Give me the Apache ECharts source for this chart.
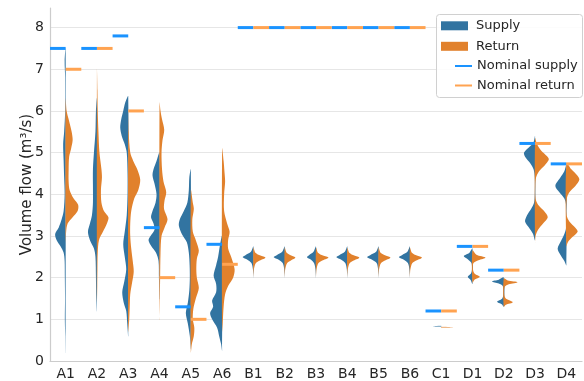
<!DOCTYPE html>
<html>
<head>
<meta charset="utf-8">
<script src="https://cdn.jsdelivr.net/npm/echarts@6/dist/echarts.min.js"></script>
<style>
  html, body { margin: 0; padding: 0; background: #fff; }
  #chart { width: 584px; height: 381px; }
</style>
</head>
<body>
<div id="chart"></div>
<script>
const categories = ['A1', 'A2', 'A3', 'A4', 'A5', 'A6', 'B1', 'B2', 'B3', 'B4', 'B5', 'B6', 'C1', 'D1', 'D2', 'D3', 'D4']

const nominalSupply = [7.5, 7.5, 7.8, 3.2, 1.3, 2.8, 8, 8, 8, 8, 8, 8, 1.2, 2.75, 2.18, 5.22, 4.73]
const nominalReturn = [7.0, 7.5, 6.0, 2.0, 1.0, 2.32, 8, 8, 8, 8, 8, 8, 1.2, 2.75, 2.18, 5.22, 4.73]

// kernel density per category as [flow, density]; density scaled so 1 ≈ 1/31 of a category
const supplyProfiles = [
  [[7.5, 0], [7.2, 1], [6.8, 0.5], [6.0, 0.5], [5.5, 1.5], [5.2, 2.5], [4.8, 2], [4.4, 1.5], [4.0, 1], [3.6, 2], [3.4, 4], [3.2, 7], [3.05, 10.5], [2.9, 9], [2.75, 5], [2.6, 2], [2.4, 1], [2.0, 0.8], [1.5, 0.6], [1.0, 0.8], [0.6, 0.4], [0.2, 0]],
  [[6.3, 0], [6.0, 1], [5.5, 1.5], [5.0, 3], [4.6, 4], [4.2, 4], [3.8, 4], [3.5, 5], [3.3, 7], [3.1, 9], [2.9, 7], [2.7, 3], [2.5, 1.5], [2.0, 1], [1.5, 0.7], [1.2, 0]],
  [[6.35, 0], [6.2, 3], [6.0, 5], [5.8, 7], [5.6, 8], [5.4, 6.5], [5.2, 3.5], [5.0, 1.5], [4.5, 0.7], [4.0, 0.7], [3.5, 1.5], [3.1, 3.5], [2.8, 5], [2.5, 3.5], [2.2, 2], [1.9, 4], [1.65, 6], [1.4, 4.5], [1.2, 2], [0.9, 1], [0.6, 0]],
  [[5.0, 0], [4.8, 3], [4.6, 6], [4.45, 7], [4.25, 5], [4.0, 3], [3.8, 4], [3.6, 7], [3.45, 8.5], [3.3, 6], [3.15, 5], [3.0, 9], [2.9, 11], [2.75, 8], [2.6, 3.5], [2.4, 1], [2.0, 0.6], [1.5, 0]],
  [[4.6, 0], [4.4, 1.5], [4.1, 2], [3.8, 3.5], [3.6, 7], [3.4, 11], [3.25, 12], [3.05, 9], [2.85, 4], [2.6, 2], [2.3, 1.2], [2.0, 1], [1.7, 1.5], [1.4, 3], [1.15, 5], [0.9, 3], [0.6, 1], [0.3, 0]],
  [[3.0, 0], [2.8, 2], [2.5, 4], [2.3, 6], [2.05, 8.5], [1.85, 6], [1.65, 6], [1.45, 10], [1.3, 9], [1.15, 12], [1.0, 10], [0.8, 5], [0.6, 3], [0.4, 1], [0.25, 0]],
  [[2.75, 0], [2.62, 2.5], [2.54, 8], [2.49, 10.7], [2.43, 6], [2.35, 2], [2.2, 0.5], [2.0, 0]],
  [[2.75, 0], [2.62, 2.5], [2.54, 8], [2.49, 11], [2.43, 6], [2.35, 2], [2.2, 0.5], [2.0, 0]],
  [[2.75, 0], [2.62, 2.5], [2.54, 7], [2.49, 9], [2.43, 5], [2.35, 2], [2.2, 0.5], [2.0, 0]],
  [[2.75, 0], [2.62, 2.5], [2.54, 8], [2.49, 10.9], [2.43, 6], [2.35, 2], [2.2, 0.5], [2.0, 0]],
  [[2.75, 0], [2.62, 2.5], [2.54, 8.5], [2.49, 11.5], [2.43, 6.5], [2.35, 2], [2.2, 0.5], [2.0, 0]],
  [[2.75, 0], [2.62, 2.5], [2.54, 8], [2.49, 11], [2.43, 6], [2.35, 2], [2.2, 0.5], [2.0, 0]],
  [[0.845, 0], [0.83, 8], [0.815, 0]],
  [[2.7, 0], [2.6, 3], [2.52, 8.7], [2.45, 5], [2.35, 1], [2.2, 0.5], [2.1, 1.5], [2.02, 4.7], [1.95, 2], [1.85, 0]],
  [[2.0, 0], [1.95, 5], [1.91, 11.7], [1.86, 5], [1.8, 1], [1.6, 0.5], [1.5, 1.5], [1.42, 6.7], [1.36, 2], [1.3, 0]],
  [[5.4, 0], [5.25, 1.5], [5.15, 5], [5.0, 11], [4.9, 10], [4.75, 5], [4.6, 1.5], [4.4, 0.3], [4.0, 0.3], [3.8, 1], [3.65, 4], [3.5, 8], [3.35, 10], [3.2, 6], [3.05, 2], [2.9, 0]],
  [[4.7, 0], [4.55, 2], [4.4, 6], [4.2, 11], [4.05, 7], [3.9, 2], [3.75, 0.3], [3.2, 0.3], [3.05, 2], [2.9, 5], [2.7, 8.7], [2.55, 6], [2.4, 2], [2.3, 0]],
]

const returnProfiles = [
  [[6.3, 0], [6.0, 1], [5.8, 3], [5.5, 6], [5.3, 7], [5.1, 5.5], [4.9, 3.5], [4.6, 3], [4.3, 3], [4.1, 4], [3.9, 8], [3.75, 12.5], [3.6, 12], [3.45, 7], [3.3, 2], [3.1, 0.5], [2.8, 0]],
  [[7.0, 0], [6.5, 0.5], [6.0, 0.8], [5.5, 1.5], [5.0, 2.5], [4.6, 4.5], [4.4, 5], [4.1, 4], [3.8, 4.5], [3.6, 7], [3.45, 11.5], [3.3, 10], [3.1, 6], [2.9, 2], [2.6, 0.8], [2.2, 0.5], [1.8, 0.3], [1.4, 0]],
  [[6.1, 0], [5.5, 0.5], [5.0, 2], [4.8, 5], [4.6, 9], [4.35, 12], [4.1, 10], [3.9, 6], [3.6, 3], [3.3, 2], [3.0, 2], [2.7, 3], [2.4, 4.5], [2.15, 5.5], [1.9, 4], [1.6, 2], [1.3, 1.5], [1.0, 1], [0.7, 0]],
  [[6.2, 0], [6.0, 1], [5.8, 2.5], [5.55, 4.7], [5.3, 3], [5.0, 2], [4.6, 2.5], [4.3, 4], [4.05, 6.7], [3.85, 5], [3.65, 4.5], [3.4, 8], [3.2, 5], [3.0, 2], [2.6, 1], [2.0, 0.6], [1.5, 0.3], [1.0, 0]],
  [[4.1, 0], [3.8, 2], [3.65, 3], [3.4, 1.5], [3.1, 2], [2.9, 5], [2.65, 8], [2.45, 6], [2.2, 5.5], [2.0, 6], [1.75, 8], [1.5, 5], [1.25, 2.5], [1.0, 2], [0.8, 3.5], [0.6, 3], [0.4, 1], [0.2, 0]],
  [[5.1, 0], [4.8, 1.5], [4.5, 2.5], [4.3, 3], [4.0, 2], [3.6, 2], [3.3, 5], [3.1, 7.5], [2.9, 6], [2.7, 6], [2.5, 9], [2.2, 12.5], [2.0, 11], [1.8, 6], [1.6, 3], [1.3, 1.5], [1.0, 0.8], [0.7, 0]],
  [[2.72, 0], [2.6, 2], [2.53, 7], [2.48, 12], [2.42, 7], [2.35, 2.5], [2.2, 0.5], [2.0, 0]],
  [[2.72, 0], [2.6, 2], [2.53, 6.5], [2.48, 10.7], [2.42, 6.5], [2.35, 2.5], [2.2, 0.5], [2.0, 0]],
  [[2.72, 0], [2.6, 2], [2.53, 7], [2.48, 12.4], [2.42, 7], [2.35, 2.5], [2.2, 0.5], [2.0, 0]],
  [[2.72, 0], [2.6, 2], [2.53, 7], [2.48, 12], [2.42, 7], [2.35, 2.5], [2.2, 0.5], [2.0, 0]],
  [[2.72, 0], [2.6, 2], [2.53, 7], [2.48, 11.8], [2.42, 7], [2.35, 2.5], [2.2, 0.5], [2.0, 0]],
  [[2.72, 0], [2.6, 2], [2.53, 7], [2.48, 12], [2.42, 7], [2.35, 2.5], [2.2, 0.5], [2.0, 0]],
  [[0.82, 0], [0.805, 12], [0.79, 0]],
  [[2.65, 0], [2.55, 4], [2.48, 13], [2.42, 6], [2.35, 1], [2.2, 0.5], [2.1, 2], [2.02, 7.3], [1.95, 2], [1.88, 0]],
  [[1.98, 0], [1.93, 4], [1.89, 13.7], [1.84, 5], [1.78, 1], [1.6, 0.5], [1.5, 2], [1.41, 9], [1.35, 2], [1.3, 0]],
  [[5.35, 0], [5.2, 2], [5.05, 6], [4.85, 13.7], [4.7, 10], [4.55, 4], [4.4, 1], [4.2, 0.3], [3.9, 0.5], [3.75, 3], [3.6, 9], [3.45, 12.7], [3.3, 8], [3.15, 3], [3.0, 0.5], [2.85, 0]],
  [[4.75, 0], [4.6, 5], [4.45, 11], [4.35, 13], [4.2, 9], [4.05, 3], [3.9, 0.5], [3.5, 0.3], [3.35, 3], [3.2, 9], [3.1, 11.3], [2.95, 5], [2.85, 1.5], [2.75, 0]],
]

const SUPPLY = '#3274a1'
const RETURN = '#e1812c'
const NOM_SUPPLY = '#1a93ff'
const NOM_RETURN = '#ffa351'
const TEXT = '#262626'
const FONT = 'DejaVu Sans'

function violinItem(profiles, side) {
  return function (params, api) {
    const i = api.value(0)
    const bw = api.size([1, 0])[0]
    const k = bw / 31.3
    const cx = api.coord([i, 0])[0]
    const pts = profiles[i].map(([v, d]) => [cx + side * d * k, api.coord([i, v])[1]])
    const faint = categories[i] === 'C1'
    return {
      type: 'polygon',
      shape: { points: pts, smooth: 0.3 },
      style: { fill: api.visual('color'), opacity: faint ? 0.55 : 1 },
    }
  }
}

function nominalItem(side) {
  return function (params, api) {
    const i = api.value(0)
    const bw = api.size([1, 0])[0]
    const [cx, cy] = api.coord([i, api.value(1)])
    const x0 = side < 0 ? cx - bw / 2 : cx
    return {
      type: 'rect',
      shape: { x: x0, y: cy - 1.5, width: bw / 2, height: 3 },
      style: { fill: api.visual('color') },
    }
  }
}

const chart = echarts.init(document.getElementById('chart'), null, { renderer: 'canvas' })

chart.setOption({
  backgroundColor: '#fff',
  animation: false,
  textStyle: { fontFamily: FONT },
  grid: { left: 50, right: 2, top: 8, bottom: 19 },
  legend: [
    {
      orient: 'vertical',
      left: 441,
      top: 19.3,
      padding: 0,
      itemWidth: 27,
      itemHeight: 9,
      itemGap: 7.5,
      icon: 'rect',
      z: 10,
      data: ['Supply', 'Return'],
      textStyle: { color: TEXT, fontSize: 13, lineHeight: 13, fontFamily: FONT, padding: [0, 0, 0, 3] },
    },
    {
      orient: 'vertical',
      left: 455,
      top: 59.5,
      padding: 0,
      itemWidth: 17,
      itemHeight: 2,
      itemGap: 6.5,
      icon: 'rect',
      z: 10,
      data: ['Nominal supply', 'Nominal return'],
      textStyle: { color: TEXT, fontSize: 13, lineHeight: 13, fontFamily: FONT },
    },
  ],
  graphic: [
    {
      type: 'rect',
      z: 5,
      shape: { x: 436.5, y: 14.5, width: 146, height: 83, r: 3 },
      style: { fill: 'rgba(255,255,255,0.85)', stroke: '#d0d0d0', lineWidth: 1 },
    },
  ],
  xAxis: {
    type: 'category',
    data: categories,
    boundaryGap: true,
    axisTick: { show: false },
    axisLine: { lineStyle: { color: '#cccccc', width: 1.2 } },
    axisLabel: { color: TEXT, fontSize: 14, fontFamily: FONT, margin: 6, interval: 0 },
    splitLine: { show: false },
  },
  yAxis: {
    type: 'value',
    min: 0,
    max: 8.47,
    interval: 1,
    name: 'Volume flow (m³/s)',
    nameLocation: 'middle',
    nameGap: 15,
    nameMoveOverlap: false,
    nameTextStyle: { color: TEXT, fontSize: 15, fontFamily: FONT },
    axisLine: { show: true, lineStyle: { color: '#cccccc', width: 1.2 } },
    axisTick: { show: false },
    axisLabel: { color: TEXT, fontSize: 14, fontFamily: FONT, margin: 6, showMaxLabel: false },
    splitLine: { show: true, showMaxLine: false, lineStyle: { color: '#e6e6e6', width: 1.2 } },
  },
  series: [
    {
      name: 'Supply',
      type: 'custom',
      itemStyle: { color: SUPPLY },
      renderItem: violinItem(supplyProfiles, -1),
      encode: { x: 0, y: 1 },
      data: categories.map((c, i) => [i, 0]),
      z: 2,
    },
    {
      name: 'Return',
      type: 'custom',
      itemStyle: { color: RETURN },
      renderItem: violinItem(returnProfiles, 1),
      encode: { x: 0, y: 1 },
      data: categories.map((c, i) => [i, 0]),
      z: 2,
    },
    {
      name: 'Nominal supply',
      type: 'custom',
      itemStyle: { color: NOM_SUPPLY },
      renderItem: nominalItem(-1),
      encode: { x: 0, y: 1 },
      data: nominalSupply.map((v, i) => [i, v]),
      z: 3,
    },
    {
      name: 'Nominal return',
      type: 'custom',
      itemStyle: { color: NOM_RETURN },
      renderItem: nominalItem(1),
      encode: { x: 0, y: 1 },
      data: nominalReturn.map((v, i) => [i, v]),
      z: 3,
    },
  ],
})
</script>
</body>
</html>
